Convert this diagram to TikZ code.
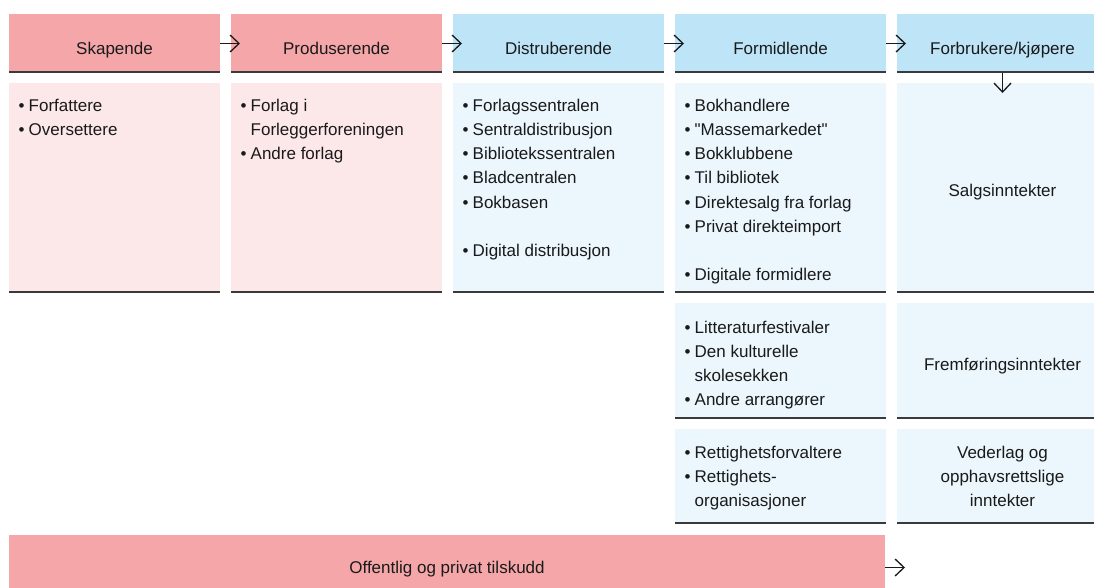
\documentclass[tikz,border=0pt]{standalone}
\usepackage{fontspec}
\setmainfont{Liberation Sans}
\newfontfamily\plainsans{Liberation Sans}
\usetikzlibrary{arrows.meta}
\definecolor{pinkH}{HTML}{F4A6A8}
\definecolor{pinkL}{HTML}{FCE8E9}
\definecolor{blueH}{HTML}{BEE4F8}
\definecolor{blueL}{HTML}{EBF6FD}
\definecolor{lineC}{HTML}{3A3A3A}
\definecolor{txt}{HTML}{1A1A1A}
\newcommand{\bul}{\makebox[10pt][l]{•}}
\newcommand{\ind}{\hspace*{10pt}}
\newcommand{\fs}{\rule{0pt}{16pt}}
\begin{document}
\begin{tikzpicture}[x=1pt,y=-1pt,
  box/.style={anchor=north west, inner sep=0pt, outer sep=0pt, minimum width=211pt},
  hdr/.style={box, minimum height=59pt},
  ul/.style={line width=2pt, draw=lineC},
  arr/.style={line width=1.3pt, draw=txt, -{Straight Barb[length=9pt,width=17pt]}},
  lbl/.style={inner sep=0pt, font=\plainsans\fontsize{17}{24.2}\selectfont, text=txt},
  lst/.style={lbl, anchor=north west, align=left},
  ctr/.style={lbl, anchor=north, align=center},
]
\useasboundingbox (0,0) rectangle (1094,587);
\clip (0,0) rectangle (1094,587);
\fill[white] (0,0) rectangle (1094,587);

% headers
\node[hdr, fill=pinkH] (h1) at (9,14) {};
\node[hdr, fill=pinkH] (h2) at (231,14) {};
\node[hdr, fill=blueH] (h3) at (453,14) {};
\node[hdr, fill=blueH] (h4) at (675,14) {};
\node[hdr, fill=blueH] (h5) at (897,14) {};

% bodies row 1
\node[box, fill=pinkL, minimum height=210pt] (b1) at (9,83) {};
\node[box, fill=pinkL, minimum height=210pt] (b2) at (231,83) {};
\node[box, fill=blueL, minimum height=210pt] (b3) at (453,83) {};
\node[box, fill=blueL, minimum height=210pt] (b4) at (675,83) {};
\node[box, fill=blueL, minimum height=210pt] (b5) at (897,83) {};
% row 2
\node[box, fill=blueL, minimum height=116pt] (r2a) at (675,303) {};
\node[box, fill=blueL, minimum height=116pt] (r2b) at (897,303) {};
% row 3
\node[box, fill=blueL, minimum height=95pt] (r3a) at (675,429) {};
\node[box, fill=blueL, minimum height=95pt] (r3b) at (897,429) {};
% bottom bar
\node[box, fill=pinkH, minimum width=876pt, minimum height=65pt] (bar) at (9,535) {};

% underlines
\foreach \n in {h1,h2,h3,h4,h5,b1,b2,b3,b4,b5,r2a,r2b,r3a,r3b}
  \draw[ul] ([yshift=1pt]\n.south west) -- ([yshift=1pt]\n.south east);

% header texts
\node[lbl, anchor=base] (t1) at (114.5,54) {Skapende};
\node[lbl, anchor=base] (t2) at (336.5,54) {Produserende};
\node[lbl, anchor=base] (t3) at (558.5,54) {Distruberende};
\node[lbl, anchor=base] (t4) at (780.5,54) {Formidlende};
\node[lbl, anchor=base] (t5) at (1002.5,54) {Forbrukere/kjøpere};

% lists
\node[lst] (l1) at (18.5,95) {\fs\bul Forfattere\\ \bul Oversettere};
\node[lst] (l2) at (240.5,95) {\fs\bul Forlag i\\ \ind Forleggerforeningen\\ \bul Andre forlag};
\node[lst] (l3) at (462.5,95) {\fs\bul Forlagssentralen\\ \bul Sentraldistribusjon\\ \bul Bibliotekssentralen\\ \bul Bladcentralen\\ \bul Bokbasen\\ \mbox{}\\ \bul Digital distribusjon};
\node[lst] (l4) at (684.5,95) {\fs\bul Bokhandlere\\ \bul "Massemarkedet"\\ \bul Bokklubbene\\ \bul Til bibliotek\\ \bul Direktesalg fra forlag\\ \bul Privat direkteimport\\ \mbox{}\\ \bul Digitale formidlere};
\node[lst] (l6) at (684.5,317) {\fs\bul Litteraturfestivaler\\ \bul Den kulturelle\\ \ind skolesekken\\ \bul Andre arrangører};
\node[lst] (l8) at (684.5,442) {\fs\bul Rettighetsforvaltere\\ \bul Rettighets-\\ \ind organisasjoner};

% centred texts
\node[ctr] (l5) at (1002.5,180) {\fs Salgsinntekter};
\node[ctr] (l7) at (1002.5,354) {\fs Fremføringsinntekter};
\node[ctr] (l9) at (1002.5,442) {\fs Vederlag og\\ opphavsrettslige\\ inntekter};
\node[lbl, anchor=base] (tb) at (447,573) {Offentlig og privat tilskudd};

% arrows
\draw[arr] (h1.east) -- ([xshift=9pt]h2.west);
\draw[arr] (h2.east) -- ([xshift=9pt]h3.west);
\draw[arr] (h3.east) -- ([xshift=9pt]h4.west);
\draw[arr] (h4.east) -- ([xshift=9pt]h5.west);
\draw[arr] (h5.south) -- ([yshift=-20pt]h5.south);
\draw[arr] (bar.east) -- ([xshift=20pt]bar.east);
\end{tikzpicture}
\end{document}
